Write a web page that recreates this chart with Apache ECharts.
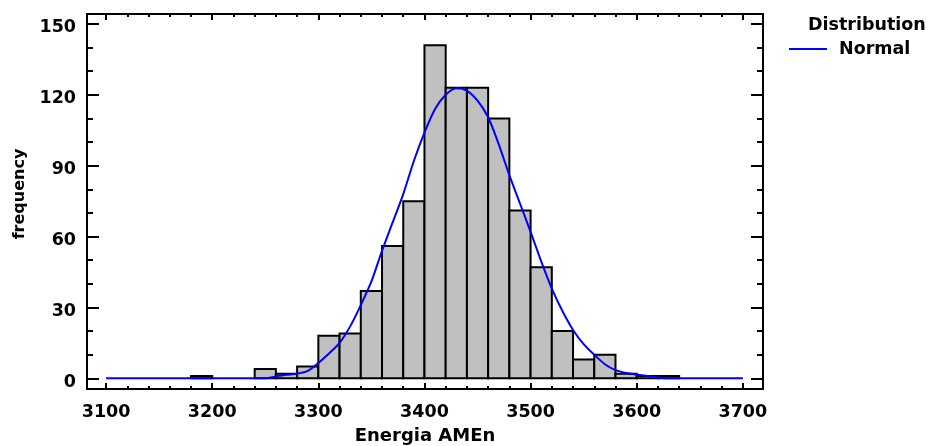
<!DOCTYPE html>
<html>
<head>
<meta charset="utf-8">
<script src="https://cdn.jsdelivr.net/npm/echarts@6/dist/echarts.min.js"></script>
<style>
html,body{margin:0;padding:0;background:#fff;}
#chart{width:928px;height:446px;}
</style>
</head>
<body>
<div id="chart"></div>
<script>
// Histogram bins (start of each 20-wide class) and frequencies
const binStarts = [3180, 3240, 3260, 3280, 3300, 3320, 3340, 3360, 3380, 3400, 3420, 3440, 3460, 3480, 3500, 3520, 3540, 3560, 3580, 3600, 3620];
const binCounts = [1, 4, 2, 5, 18, 19, 37, 56, 75, 141, 123, 123, 110, 71, 47, 20, 8, 10, 2, 1, 1];
const binWidth = 20;

// Fitted normal curve
const curveX = [3100, 3250, 3260, 3270, 3280, 3290, 3300, 3310, 3320, 3330, 3340, 3350, 3360, 3370, 3380, 3390, 3400, 3410, 3420, 3430, 3440, 3450, 3460, 3470, 3480, 3490, 3500, 3510, 3520, 3530, 3540, 3550, 3560, 3570, 3580, 3590, 3600, 3610, 3620, 3630, 3700];
const curveY = [0, 0, 0.8, 1.5, 2, 3.2, 6.5, 10.5, 15, 22, 31, 41, 54, 66, 78, 92, 104, 114, 120, 122.8, 121.8, 117.5, 110.5, 99, 86, 74, 62, 49.5, 38, 28.5, 20.5, 14.5, 10, 6, 3.5, 2.3, 1.6, 1, 0.4, 0, 0];

const xMajor = [3100, 3200, 3300, 3400, 3500, 3600, 3700];
const yMajor = [0, 30, 60, 90, 120, 150];

const xMinor = [];
for (let v = 3100; v <= 3700; v += 20) if (v % 100 !== 0) xMinor.push(v);
const yMinor = [];
for (let v = 0; v <= 150; v += 10) if (v % 30 !== 0) yMinor.push(v);

const FONT = '"DejaVu Sans", sans-serif';
const XMIN = 3082, XMAX = 3719, YMIN = -4.5, YMAX = 154.2;

function xAx(pos, ticks, len, labels) {
  return {
    type: 'value', position: pos, min: XMIN, max: XMAX,
    axisLine: {show: false, onZero: false}, splitLine: {show: false},
    axisTick: {show: true, inside: true, length: len, customValues: ticks, lineStyle: {color: '#000', width: 2}},
    axisLabel: labels ? {show: true, customValues: ticks, formatter: v => String(v), color: '#000', fontWeight: 'bold', fontSize: 17.5, fontFamily: FONT, margin: 14} : {show: false}
  };
}
function yAx(pos, ticks, len, labels) {
  return {
    type: 'value', position: pos, min: YMIN, max: YMAX,
    axisLine: {show: false, onZero: false}, splitLine: {show: false},
    axisTick: {show: true, inside: true, length: len, customValues: ticks, lineStyle: {color: '#000', width: 2}},
    axisLabel: labels ? {
      show: true, customValues: ticks, formatter: v => '{a|' + v + '}', margin: 11,
      rich: {a: {color: '#000', fontWeight: 'bold', fontSize: 17.5, fontFamily: FONT, padding: [8, 0, 0, 0]}}
    } : {show: false}
  };
}

const histData = binStarts.map((s, i) => [s, s + binWidth, binCounts[i]]);
const curveData = curveX.map((x, i) => [x, curveY[i]]);

const chart = echarts.init(document.getElementById('chart'));
chart.setOption({
  animation: false,
  backgroundColor: '#fff',
  grid: {left: 87, right: 165, top: 14, bottom: 57, show: true, borderColor: '#000', borderWidth: 2, backgroundColor: 'transparent', containLabel: false, outerBoundsMode: 'none'},
  xAxis: [
    Object.assign(xAx('bottom', xMajor, 6, true), {name: 'Energia AMEn', nameLocation: 'middle', nameGap: 38, nameTextStyle: {color: '#000', fontWeight: 'bold', fontSize: 18, fontFamily: FONT}}),
    xAx('bottom', xMinor, 3, false),
    xAx('top', xMajor, 6, false),
    xAx('top', xMinor, 3, false)
  ],
  yAxis: [
    yAx('left', yMajor, 12, true),
    yAx('left', yMinor, 6, false),
    yAx('right', yMajor, 12, false),
    yAx('right', yMinor, 6, false)
  ],
  legend: {
    data: [{name: 'Normal', icon: 'rect'}],
    left: 789, top: 40, padding: 0, itemWidth: 38, itemHeight: 2,
    textStyle: {color: '#000', fontWeight: 'bold', fontSize: 17.5, fontFamily: FONT, padding: [0, 0, 0, 7]}
  },
  graphic: [
    {
      type: 'text', left: 808, top: 16,
      style: {text: 'Distribution', fill: '#000', font: 'bold 17.5px ' + FONT}
    },
    {
      type: 'text', x: 20, y: 194, rotation: Math.PI / 2,
      style: {text: 'frequency', fill: '#000', font: 'bold 16px ' + FONT, align: 'center', verticalAlign: 'middle'}
    }
  ],
  series: [
    {
      type: 'custom', name: 'Histogram', xAxisIndex: 0, yAxisIndex: 0,
      data: histData,
      encode: {x: [0, 1], y: 2},
      renderItem: function (params, api) {
        const p0 = api.coord([api.value(0), 0]);
        const p1 = api.coord([api.value(1), api.value(2)]);
        return {
          type: 'rect',
          shape: {x: p0[0], y: p1[1], width: p1[0] - p0[0], height: p0[1] - p1[1]},
          style: {fill: '#c0c0c0', stroke: '#000', lineWidth: 2}
        };
      },
      z: 2
    },
    {
      type: 'line', name: 'Normal', xAxisIndex: 0, yAxisIndex: 0,
      data: curveData, smooth: 0.3, showSymbol: false,
      lineStyle: {color: '#0000ff', width: 2}, itemStyle: {color: '#0000ff'},
      z: 3
    }
  ]
});
</script>
</body>
</html>
